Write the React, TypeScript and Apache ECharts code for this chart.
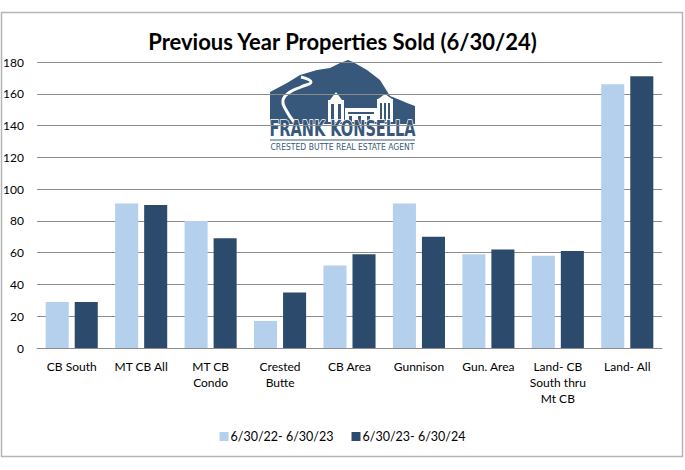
import React, { useEffect, useRef } from "react";
import * as echarts from "echarts";

const categories = [
  "CB South",
  "MT CB All",
  "MT CB\nCondo",
  "Crested\nButte",
  "CB Area",
  "Gunnison",
  "Gun. Area",
  "Land- CB\nSouth thru\nMt CB",
  "Land- All",
];
const seriesNames = ["6/30/22- 6/30/23", "6/30/23- 6/30/24"];
const prevYear = [29, 91, 80, 17, 52, 91, 59, 58, 166];
const currYear = [29, 90, 69, 35, 59, 70, 62, 61, 171];
const titleText = "Previous Year Properties Sold (6/30/24)";

const LIGHT = "#B4D0EC";
const DARK = "#2C4B6C";
const LOGO = "#37587A";

export default function App() {
  const ref = useRef<HTMLDivElement>(null);
  useEffect(() => {
    if (!ref.current) return;
    const chart = echarts.init(ref.current, null, { renderer: "svg" });
    const font = "Lato, 'Open Sans', sans-serif";
    chart.setOption({
      animation: false,
      backgroundColor: "#ffffff",
      textStyle: { fontFamily: font },
      title: {
        text: titleText,
        left: "center",
        top: 25,
        textStyle: { fontFamily: font, fontWeight: "bold", fontSize: 22, color: "#000" },
      },
      legend: {
        bottom: 22,
        left: "center",
        itemWidth: 9,
        itemHeight: 9,
        itemGap: 18,
        icon: "rect",
        textStyle: { fontFamily: font, fontSize: 12.5, color: "#000", padding: [0, 0, 0, -3] },
        data: seriesNames,
      },
      grid: { left: 37, right: 23, top: 62, bottom: 122 },
      xAxis: {
        type: "category",
        data: categories,
        axisTick: { show: false },
        axisLine: { lineStyle: { color: "#8c8c8c", width: 1 } },
        axisLabel: {
          interval: 0,
          margin: 10,
          lineHeight: 16,
          fontSize: 12,
          color: "#000",
          fontFamily: font,
        },
      },
      yAxis: {
        type: "value",
        min: 0,
        max: 180,
        interval: 20,
        axisLine: { show: false },
        axisTick: { show: false },
        splitLine: { lineStyle: { color: "#8c8c8c", width: 1 } },
        axisLabel: { margin: 13, fontSize: 12, color: "#000", fontFamily: font },
      },
      series: [
        {
          name: seriesNames[0],
          type: "bar",
          data: prevYear,
          itemStyle: { color: LIGHT },
          barGap: "26%",
          barCategoryGap: "25%",
        },
        {
          name: seriesNames[1],
          type: "bar",
          data: currYear,
          itemStyle: { color: DARK },
        },
      ],
      graphic: [
        {
          type: "rect",
          shape: { x: 1.5, y: 12.5, width: 681, height: 444 },
          style: { fill: "none", stroke: "#b5b5b5", lineWidth: 1.5 },
          silent: true,
          z: 100,
        },
        {
          type: "group",
          z: 50,
          children: [
            {
              type: "polygon",
              shape: {
                points: [
                  [270, 92],
                  [287, 83],
                  [300, 75],
                  [317, 70],
                  [330, 68],
                  [340, 63],
                  [348, 60],
                  [353, 62],
                  [367, 70],
                  [380, 80],
                  [390, 96],
                  [400, 100],
                  [407, 103],
                  [415, 106],
                  [415, 124],
                  [270, 124],
                ],
              },
              style: { fill: LOGO },
            },
            {
              type: "polyline",
              shape: {
                points: [
                  [301, 77],
                  [311, 82],
                  [301, 87],
                  [290, 92],
                  [283, 100],
                  [286, 110],
                  [294, 122],
                ],
                smooth: 0.5,
              },
              style: { stroke: "#fff", lineWidth: 3, fill: "none" },
            },
            { type: "rect", shape: { x: 328, y: 100, width: 16, height: 22 }, style: { fill: "#fff" } },
            { type: "polygon", shape: { points: [[330, 100], [336, 92], [342, 100]] }, style: { fill: "#fff" } },
            { type: "rect", shape: { x: 345, y: 108, width: 32, height: 14 }, style: { fill: "#fff" } },
            { type: "rect", shape: { x: 377, y: 99, width: 16, height: 23 }, style: { fill: "#fff" } },
            { type: "polygon", shape: { points: [[378, 99], [385, 94], [392, 99]] }, style: { fill: "#fff" } },
            { type: "rect", shape: { x: 331, y: 104, width: 3, height: 17 }, style: { fill: LOGO } },
            { type: "rect", shape: { x: 338, y: 104, width: 3, height: 17 }, style: { fill: LOGO } },
            { type: "rect", shape: { x: 348, y: 112, width: 26, height: 2 }, style: { fill: LOGO } },
            { type: "rect", shape: { x: 349, y: 116, width: 3, height: 6 }, style: { fill: LOGO } },
            { type: "rect", shape: { x: 358, y: 116, width: 3, height: 6 }, style: { fill: LOGO } },
            { type: "rect", shape: { x: 367, y: 116, width: 3, height: 6 }, style: { fill: LOGO } },
            { type: "rect", shape: { x: 380, y: 103, width: 2, height: 18 }, style: { fill: LOGO } },
            { type: "rect", shape: { x: 384, y: 103, width: 2, height: 18 }, style: { fill: LOGO } },
            { type: "rect", shape: { x: 388, y: 103, width: 2, height: 18 }, style: { fill: LOGO } },
            {
              type: "text",
              x: 342.5,
              y: 129,
              scaleX: 0.77,
              style: {
                text: "FRANK KONSELLA",
                fontFamily: "'Liberation Sans Narrow', 'DejaVu Sans Condensed', sans-serif",
                fontWeight: "bold",
                fontSize: 21,
                fill: LOGO,
                stroke: "#fff",
                lineWidth: 1.5,
                align: "center",
                verticalAlign: "middle",
              },
            },
            {
              type: "line",
              shape: { x1: 270, y1: 140, x2: 415, y2: 140 },
              style: { stroke: LOGO, lineWidth: 1 },
            },
            {
              type: "text",
              x: 342.5,
              y: 147,
              style: {
                text: "CRESTED BUTTE REAL ESTATE AGENT",
                fontFamily: "'Liberation Sans Narrow', 'DejaVu Sans Condensed', sans-serif",
                fontSize: 8.5,
                fill: LOGO,
                align: "center",
                verticalAlign: "middle",
              },
            },
          ],
        },
      ],
    });
    return () => chart.dispose();
  }, []);
  return (
    <div
      ref={ref}
      style={{ position: "fixed", left: 0, top: 0, width: 685, height: 470 }}
    />
  );
}
